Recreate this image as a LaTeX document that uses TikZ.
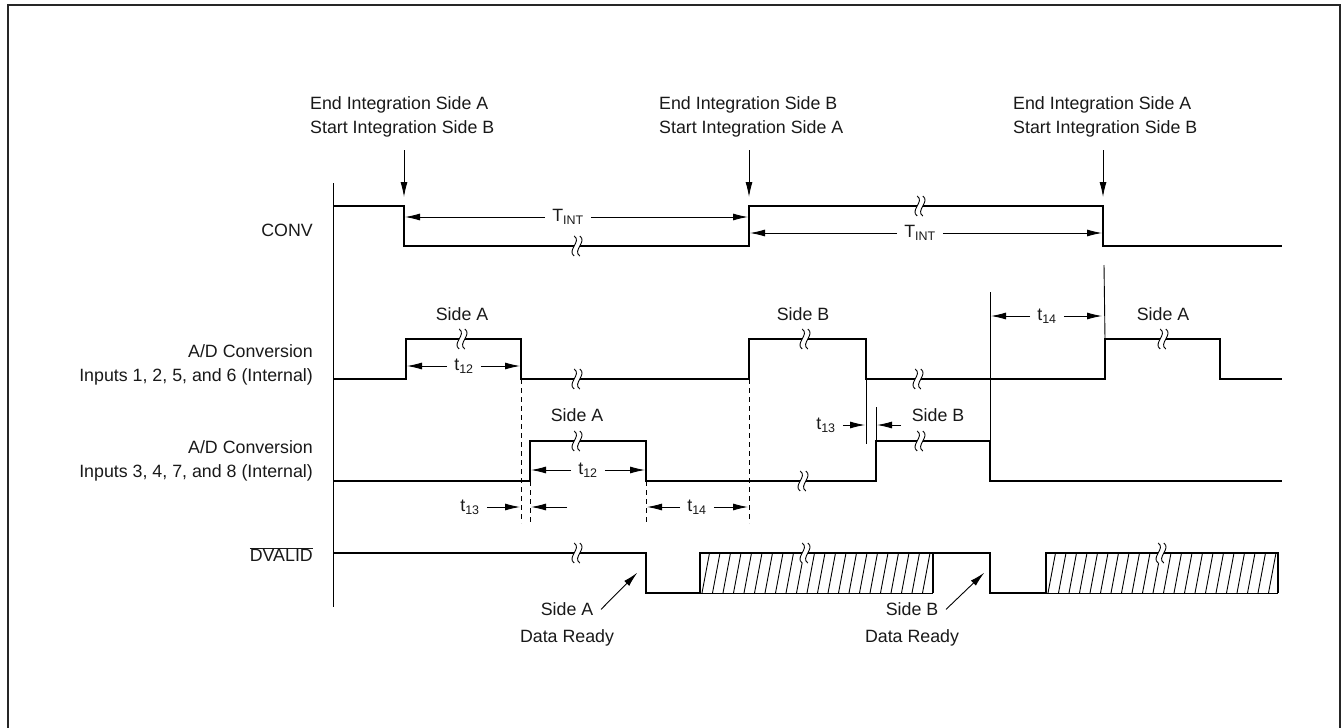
\documentclass[tikz,border=0pt]{standalone}
\usepackage{fontspec}
\setmainfont{Liberation Sans}
\usetikzlibrary{arrows.meta,positioning,calc}

\tikzset{
  sig/.style={line width=2.1pt, line join=miter},
  fine/.style={line width=0.9pt},
  guide/.style={line width=0.9pt, dash pattern=on 5pt off 4pt},
  dim/.style={line width=0.9pt, -{Latex[length=15pt,width=7pt]}, shorten >=1pt},
  lbl/.style={font=\fontsize{17.8}{24}\selectfont, inner sep=0pt, text=black!90},
  dimlbl/.style={lbl, inner xsep=7pt},
  brk/.pic={
    \fill[white] (-2.8,-10) .. controls (5,-4.5) and (-10.6,4.5) .. (-2.8,10) -- (2.8,10) .. controls (-5,4.5) and (10.6,-4.5) .. (2.8,-10) -- cycle;
    \draw[fine] (-2.8,-10) .. controls (5,-4.5) and (-10.6,4.5) .. (-2.8,10);
    \draw[fine] (2.8,-10) .. controls (10.6,-4.5) and (-5,4.5) .. (2.8,10);
  }
}

\begin{document}
\begin{tikzpicture}[x=1pt,y=-1pt]
	\useasboundingbox (0,0) rectangle (1341,728);
	\draw[line width=2.5pt,black!85] (8,5) rectangle (1340.5,745);

	% edges
	\coordinate (cF1) at (404,206); \coordinate (cR1) at (749,206); \coordinate (cF2) at (1103,206);
	\coordinate (aR1) at (406,339); \coordinate (aF1) at (521,339); \coordinate (aR2) at (749,339);
	\coordinate (aF2) at (866,339); \coordinate (aR3) at (1105,339);
	\coordinate (bR1) at (530,441); \coordinate (bF1) at (646,441); \coordinate (bR2) at (876,441);
	\coordinate (bF2) at (990,441);
	\coordinate (dF1) at (646,553); \coordinate (dF2) at (990,553);

	% row names
	\node[lbl,anchor=east] (conv) at (313,230) {CONV};
	\node[lbl,align=right,anchor=north east] (adA) at (313,344.5) {A/D Conversion\\Inputs 1, 2, 5, and 6 (Internal)};
	\node[lbl,align=right,anchor=north east] (adB) at (313,440.5) {A/D Conversion\\Inputs 3, 4, 7, and 8 (Internal)};
	\node[lbl,anchor=base east] (dval) at (313,561.4) {$\overline{\mbox{DVALID}}$};
	\draw[fine] (333,183) -- (333,607);

	% events
	\node[lbl,align=left,anchor=north west] (endA) at (310,96.5) {End Integration Side A\\Start Integration Side B};
	\node[lbl,align=left,anchor=north west] (endB) at (659,96.5) {End Integration Side B\\Start Integration Side A};
	\node[lbl,align=left,anchor=north west] (endC) at (1013,96.5) {End Integration Side A\\Start Integration Side B};
	\foreach \ev/\ed in {endA/cF1,endB/cR1,endC/cF2}
		\draw[dim] ($(\ev.south -| \ed)+(0,13)$) -- ($(\ed)+(0,-8)$);

	% waveforms
	\draw[sig] (333,206) -- (cF1) -- (404,246) -- (749,246) -- (cR1) -- (cF2) -- (1103,246) -- (1282,246);
	\draw[sig] (333,379) -- (406,379) -- (aR1) -- (aF1) -- (521,379) -- (749,379) -- (aR2) -- (aF2) -- (866,379)
		-- (1105,379) -- (aR3) -- (1220,339) -- (1220,379) -- (1282,379);
	\draw[sig] (333,481) -- (530,481) -- (bR1) -- (bF1) -- (646,481) -- (876,481) -- (bR2) -- (bF2) -- (990,481) -- (1282,481);
	\draw[sig] (333,553) -- (dF1) -- (646,593) -- (700,593);
	\draw[sig] (933,553) -- (dF2) -- (990,593) -- (1046,593);
	\foreach \xa/\xb in {700/933,1046/1278}{
		\begin{scope}
			\clip (\xa,553) rectangle (\xb,593);
			\foreach \i in {0,...,23}
				\draw[fine] ({\xa+2+\i*10.5},593) -- ++(7.5,-40);
		\end{scope}
		\draw[sig] (\xa,593) -- (\xa,553) -- (\xb,553) -- (\xb,593);
		\draw[fine] (\xa,593) -- (\xb,593);
	}

	% breaks
	\foreach \bx/\by in {577/246,920/206,462/339,577/379,805/339,918/379,1163/339,
		577/441,803/481,920/441,577/553,805/553,1161/553}
		\pic at (\bx,\by) {brk};

	% guide lines
	\draw[fine] (1104,265) -- (aR3);
	\draw[fine] (990,292) -- (bF2);
	\draw[fine] (866,379) -- (866,444);
	\draw[fine] (876,407) -- (bR2);
	\draw[guide] (521,379) -- (521,523);
	\draw[guide] (749,379) -- (749,523);
	\draw[guide] (530,481) -- (530,523);
	\draw[guide] (646,481) -- (646,523);

	% pulse names
	\node[lbl] (sA1) at (462,314) {Side A};
	\node[lbl] (sB1) at (803,314) {Side B};
	\node[lbl] (sA2) at (1163,314) {Side A};
	\node[lbl] (sA3) at (577,415) {Side A};
	\node[lbl] (sB3) at (938,415) {Side B};

	% timings
	\node[dimlbl] (tint1) at (568,217) {T\textsubscript{INT}};
	\draw[dim] (tint1.west) -- (tint1.west -| cF1);
	\draw[dim] (tint1.east) -- (tint1.east -| cR1);
	\node[dimlbl] (tint2) at (920,233) {T\textsubscript{INT}};
	\draw[dim] (tint2.west) -- (tint2.west -| cR1);
	\draw[dim] (tint2.east) -- (tint2.east -| cF2);
	\node[dimlbl] (t12a) at (464,366) {t\textsubscript{12}};
	\draw[dim] (t12a.west) -- (t12a.west -| aR1);
	\draw[dim] (t12a.east) -- (t12a.east -| aF1);
	\node[dimlbl] (t14a) at (1047,316) {t\textsubscript{14}};
	\draw[dim] (t14a.west) -- (t14a.west -| bF2);
	\draw[dim] (t14a.east) -- (t14a.east -| cF2);
	\node[dimlbl] (t12b) at (588,470) {t\textsubscript{12}};
	\draw[dim] (t12b.west) -- (t12b.west -| bR1);
	\draw[dim] (t12b.east) -- (t12b.east -| bF1);
	\node[dimlbl] (t13b) at (470,507) {t\textsubscript{13}};
	\coordinate (t13bR) at (567,507);
	\draw[dim] (t13b.east) -- (t13b.east -| aF1);
	\draw[dim] (t13bR) -- (t13bR -| bR1);
	\node[dimlbl] (t14b) at (697,507) {t\textsubscript{14}};
	\draw[dim] (t14b.west) -- (t14b.west -| bF1);
	\draw[dim] (t14b.east) -- (t14b.east -| aR2);
	\node[dimlbl] (t13c) at (826,425) {t\textsubscript{13}};
	\coordinate (t13cR) at (901,425);
	\draw[dim] (t13c.east) -- (t13c.east -| aF2);
	\draw[dim] (t13cR) -- (t13cR -| bR2);

	% data ready
	\node[lbl,align=center,anchor=north] (rdyA) at (567,602.4) {Side A\\[3pt]Data Ready};
	\node[lbl,align=center,anchor=north] (rdyB) at (912,602.4) {Side B\\[3pt]Data Ready};
	\draw[dim] ($(rdyA.north)+(34,7)$) -- ($(dF1)+(-8,19)$);
	\draw[dim] ($(rdyB.north)+(34,7)$) -- ($(dF2)+(-5,19)$);
\end{tikzpicture}
\end{document}
